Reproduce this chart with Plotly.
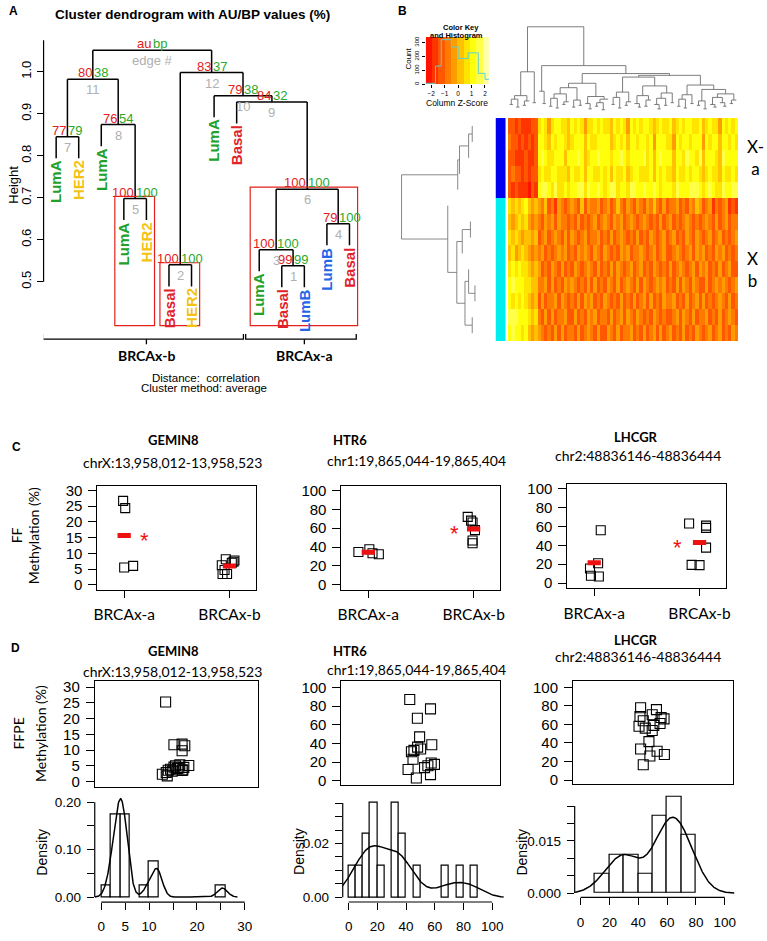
import numpy as np
import plotly.graph_objects as go

W, H = 767, 941
SANS = "Liberation Sans, Arial, sans-serif"
CAL = "Lato, Open Sans, sans-serif"

# ---------------- A: pvclust dendrogram ----------------
a_leaves = ["LumA", "HER2", "LumA", "LumA", "HER2", "Basal", "HER2",
            "LumA", "Basal", "LumA", "Basal", "LumB", "LumB", "Basal"]
# height at which leaf i joins leaf i+1 (leaf order as drawn)
a_merge = [0.845, 0.982, 0.874, 0.698, 1.051, 0.540, 0.998,
           0.943, 0.928, 0.576, 0.538, 0.720, 0.638]
# AU / BP p-values (%) by edge number 1..12
a_au = [99, 100, 100, 79, 100, 100, 77, 76, 84, 79, 80, 83]
a_bp = [99, 100, 100, 100, 100, 100, 79, 54, 32, 38, 38, 37]
a_group = ["BRCAx-b"] * 9 + ["BRCAx-a"] * 5
a_ticks = [0.5, 0.6, 0.7, 0.8, 0.9, 1.0]

# ---------------- B: heatmap ----------------
b_key_breaks = [-2.4, -1.93, -1.46, -0.99, -0.52, -0.05, 0.42, 0.89, 1.36, 1.83, 2.3]
b_key_hist_edges = [-2.43, -1.68, -1.25, -0.5, 0.0, 0.75, 1.5, 2.0, 2.38]
b_key_hist_counts = [7, 131, 321, 269, 186, 226, 79, 36]
b_row_group = ["X-a"] * 5 + ["X-b"] * 9
b_row_merge = [0.22, 0.26, 0.36, 0.38, 1.0, 0.49, 0.24, 0.33, 0.39, 0.26, 0.19, 0.30, 0.22]
b_col_merge = [0.12, 0.18, 0.09, 0.22, 0.11, 0.16, 0.49, 0.14, 1.00, 0.27,
               0.13, 0.56, 0.10, 0.19, 0.08, 0.24, 0.12, 0.15, 0.31, 0.09,
               0.17, 0.11, 0.36, 0.13, 0.07, 0.21, 0.10, 0.14, 0.06, 0.18,
               0.47, 0.12, 0.20, 0.08, 0.26, 0.11, 0.15, 0.43, 0.13, 0.09,
               0.22, 0.10, 0.17, 0.33, 0.12, 0.07, 0.19, 0.11, 0.25, 0.14,
               0.45, 0.10, 0.18, 0.08, 0.23, 0.13, 0.34, 0.11, 0.16, 0.07,
               0.29, 0.12, 0.09, 0.20, 0.14, 0.10, 0.24, 0.13, 0.17]
# colour level (0 = lowest z-score bin ... 9 = highest) of every cell
b_rows = [
    "221211122 6764677665 7676466767 6657676476 7677656766 7567677667 5676647676 7",
    "322121212 7765767765 6777576677 7756767577 6776747776 6476776777 4767757767 6",
    "221112112 7876677757 7787567787 7767787677 7786757877 7577687768 5777658777 7",
    "232212122 6766776665 7667577667 6757667567 7666757676 6576676776 5676657667 6",
    "212111021 7887686676 7788687787 6788677688 7787787677 7687778887 6787668778 8",
    "656567545 4352314323 4325243342 3423532432 4324353242 3342324354 2341323412 1",
    "545656434 3243424332 3242323423 4324342343 2343232423 4232343232 3432423423 3",
    "656545545 2342343242 4323423342 3242343232 4232432342 3423243243 2342342323 4",
    "564565434 3423234342 3243432432 4323243423 3432342342 2343234243 4232434232 3",
    "676766545 4232432423 2432343242 3242432342 3423243232 4234323424 3423242342 2",
    "787776655 3342423243 4323242423 2432423432 4243234342 3242432432 2423434323 4",
    "767676545 2423342432 3242434232 4323242324 2342423243 3423242342 4232343242 3",
    "888777656 3242423342 2423243423 3242342432 4323243232 2342432423 3423242343 2",
    "787767545 4323242423 3242343242 2432423342 3242342423 4232423243 2342342324 3",
]

# ---------------- C: fresh-frozen methylation (%) ----------------
genes = ["GEMIN8", "HTR6", "LHCGR"]
regions = ["chrX:13,958,012-13,958,523", "chr1:19,865,044-19,865,404", "chr2:48836146-48836444"]
ff_groups = ["BRCAx-a", "BRCAx-b"]
ff_gemin8_a = [26.7, 24.4, 5.5, 6.0]
ff_gemin8_b = [8.1, 7.3, 7.0, 6.2, 4.7, 3.4, 3.4, 7.7]
ff_htr6_a = [34.7, 37.6, 33.4, 32.3]
ff_htr6_b = [72, 68, 66, 58, 47, 44]
ff_lhcgr_a = [15.5, 7.7, 7.0, 21.0, 56.0]
ff_lhcgr_b = [63.2, 61.0, 58.6, 37.6, 19.3, 19.0]
# horizontal jitter of each point, as plotted
ff_gemin8_a_jit = [-0.01, 0.01, 0.0, 0.085]
ff_gemin8_b_jit = [-0.035, 0.038, 0.022, -0.073, -0.047, -0.066, -0.023, 0.047]
ff_htr6_a_jit = [-0.094, 0.01, 0.04, 0.1]
ff_htr6_b_jit = [-0.056, -0.024, -0.01, 0.013, -0.01, -0.01]
ff_lhcgr_a_jit = [-0.04, -0.031, 0.044, 0.037, 0.062]
ff_lhcgr_b_jit = [-0.099, 0.062, 0.062, 0.062, -0.075, 0.0]
ff_star_group = [0, 1, 1]

# ---------------- D: FFPE methylation (%) ----------------
ffpe_gemin8 = [25.3, 11.9, 11.7, 11.4, 9.8, 1.8, 2.3, 2.9, 3.3, 3.5,
               3.6, 3.7, 3.9, 4.1, 4.3, 4.5, 4.6, 5.0, 5.1, 5.3]
ffpe_gemin8_jit = [-0.132, 0.07, -0.03, 0.103, 0.07, -0.112, -0.172, -0.124, -0.051, 0.07,
                   -0.1, 0.079, -0.072, 0.01, 0.03, 0.091, -0.03, -0.011, 0.152, 0.042]
ffpe_htr6 = [87, 77, 67, 47, 38.5, 36, 34, 32.5, 31, 23, 19, 17.5, 16, 14, 12, 6.4, 2.8]
ffpe_htr6_jit = [-0.141, 0.12, -0.045, -0.017, 0.136, -0.042, -0.004, -0.088, -0.12, -0.1,
                 0.129, 0.17, 0.087, 0.045, -0.162, 0.12, -0.058]
ffpe_lhcgr = [16.5, 26, 27.5, 31, 33.5, 41.5, 53.5, 56, 58, 59,
              61, 64, 66, 67.5, 68.5, 70.5, 76, 78]
ffpe_lhcgr_jit = [-0.122, -0.039, 0.142, 0.051, -0.155, -0.051, -0.01, -0.097, -0.175, 0.01,
                  0.088, -0.122, 0.138, 0.101, -0.163, -0.01, 0.043, -0.155]
hist_bins = [(0, 26, 2), (0, 90, 5), (10, 80, 10)]

SUB_COL = {"LumA": "#22a12a", "HER2": "#f3c213", "Basal": "#e1222b", "LumB": "#2466e8"}
AU_COL, BP_COL, EDGE_COL = "#e3201b", "#2aa92a", "#b0b0b0"
HEAT = ["#FF0000", "#FF2000", "#FF4000", "#FF6000", "#FF8000", "#FF9F00",
        "#FFBF00", "#FFDF00", "#FFFF00", "#FFFF2A", "#FFFF80", "#FFFFD5"]
HEAT_SCALE = [[i / (len(HEAT) - 1), c] for i, c in enumerate(HEAT)]

fig = go.Figure()
lay_axes, ann, shp = {}, [], []
BLANK = dict(showgrid=False, zeroline=False, showticklabels=False, ticks="", showline=False)
BOX = dict(showline=True, mirror=True, linecolor="black", linewidth=1)


def dom_x(a, b):
    return [a / W, b / W]


def dom_y(top, bottom):
    return [1 - bottom / H, 1 - top / H]


def axes(n, xd, yd, xr, yr, xkw=None, ykw=None):
    s = "" if n == 1 else str(n)
    lay_axes["xaxis" + s] = dict(BLANK, domain=xd, range=xr, anchor="y" + s, **(xkw or {}))
    lay_axes["yaxis" + s] = dict(BLANK, domain=yd, range=yr, anchor="x" + s, **(ykw or {}))
    return "x" + s, "y" + s


def ticks(vals, labels=None, size=13, family=SANS, angle=0, length=7, standoff=None):
    d = dict(tickmode="array", tickvals=vals, showticklabels=True, ticks="outside",
             ticklen=length, tickwidth=1, tickcolor="black", tickangle=angle,
             tickfont=dict(family=family, size=size, color="black"))
    if labels is not None:
        d["ticktext"] = labels
    if standoff is not None:
        d["ticklabelstandoff"] = standoff
    return d


def text(s, x, y, size, color="black", family=SANS, bold=False, angle=0,
         xa="center", ya="middle", xref="paper", yref="paper", yshift=0, xshift=0):
    if xref == "paper":
        x = x / W
    if yref == "paper":
        y = 1 - y / H
    ann.append(dict(text=s, x=x, y=y, xref=xref, yref=yref, showarrow=False,
                    textangle=angle, xanchor=xa, yanchor=ya, yshift=yshift, xshift=xshift,
                    borderpad=0, font=dict(family=family, size=size, color=color,
                                           weight="bold" if bold else "normal")))


def build(merge, lo, hi, pos):
    if lo == hi:
        return dict(x=pos[lo], h=None, lo=lo, hi=hi, kids=[])
    k = lo + int(np.argmax(merge[lo:hi]))
    left, right = build(merge, lo, k, pos), build(merge, k + 1, hi, pos)
    return dict(x=(left["x"] + right["x"]) / 2, h=merge[k], lo=lo, hi=hi, kids=[left, right])


def walk(node, hang, xs, ys, nodes, leaf_end):
    if not node["kids"]:
        return
    nodes.append(node)
    left, right = node["kids"]
    for kid in (left, right):
        if kid["kids"]:
            kh = kid["h"]
        else:
            kh = node["h"] - hang
            leaf_end[kid["lo"]] = kh
        xs += [kid["x"], kid["x"], None]
        ys += [kh, node["h"], None]
    xs += [left["x"], right["x"], None]
    ys += [node["h"], node["h"], None]
    for kid in (left, right):
        walk(kid, hang, xs, ys, nodes, leaf_end)


def line_trace(x, y, xa, ya, color="black", width=1.0):
    fig.add_trace(go.Scatter(x=x, y=y, mode="lines", xaxis=xa, yaxis=ya, hoverinfo="skip",
                             line=dict(color=color, width=width)))


# ================= panel A =================
xa, ya = axes(1, dom_x(40, 385.6), dom_y(17.5, 364.7), [0.443, 15.6], [0.3, 1.12],
              ykw=ticks(a_ticks, [f"{t:.1f}" for t in a_ticks], 13, angle=-90, length=6))
a_pos = [i + 1 for i in range(len(a_leaves))]
a_root = build(a_merge, 0, len(a_leaves) - 1, a_pos)
xs, ys, a_nodes, a_end = [], [], [], {}
walk(a_root, 0.1 * (max(a_merge) - min(a_merge)), xs, ys, a_nodes, a_end)
line_trace(xs, ys, xa, ya, width=1.5)
shp.append(dict(type="line", xref="x domain", yref="y", x0=0, x1=0, y0=a_ticks[0], y1=1.075,
                line=dict(color="black", width=1.2)))
for i, lab in enumerate(a_leaves):
    text(lab, a_pos[i], a_end[i], 15, SUB_COL[lab], bold=True, angle=-90, ya="top",
         xref=xa, yref=ya, yshift=-1)
inner = sorted([n for n in a_nodes if n is not a_root], key=lambda n: n["h"])
for e, n in enumerate(inner, 1):
    text(str(a_au[e - 1]), n["x"], n["h"], 13, AU_COL, xa="right", ya="bottom", xref=xa, yref=ya, yshift=-2)
    text(str(a_bp[e - 1]), n["x"], n["h"], 13, BP_COL, xa="left", ya="bottom", xref=xa, yref=ya, yshift=-2)
    text(str(e), n["x"], n["h"], 13, EDGE_COL, ya="top", xref=xa, yref=ya, yshift=-2)
text("au", a_root["x"], a_root["h"], 13, AU_COL, xa="right", ya="bottom", xref=xa, yref=ya, yshift=-2)
text("bp", a_root["x"], a_root["h"], 13, BP_COL, xa="left", ya="bottom", xref=xa, yref=ya, yshift=-2)
text("edge #", a_root["x"], a_root["h"], 13, EDGE_COL, ya="top", xref=xa, yref=ya, yshift=-2)
boxed = []
for e, n in sorted(enumerate(inner, 1), key=lambda t: t[1]["lo"] - t[1]["hi"]):
    if a_au[e - 1] >= 95 and not any(b["lo"] <= n["lo"] and n["hi"] <= b["hi"] for b in boxed):
        boxed.append(n)
for n in boxed:
    shp.append(dict(type="rect", xref=xa, yref=ya, x0=a_pos[n["lo"]] - 0.4, x1=a_pos[n["hi"]] + 0.36,
                    y0=0.395, y1=n["h"] + 0.005, line=dict(color=AU_COL, width=1.2)))
for g in dict.fromkeys(a_group):
    idx = [i for i, v in enumerate(a_group) if v == g]
    x0, x1 = a_pos[idx[0]] - 0.6, a_pos[idx[-1]] + 0.3
    c = (a_pos[idx[0]] + a_pos[idx[-1]]) / 2
    line_trace([x0, x0, x1, x1, None, c, c], [0.375, 0.363, 0.363, 0.375, None, 0.363, 0.351],
               xa, ya, width=1.3)
    text(g, c, 0.323, 14, family=CAL, bold=True, xref=xa, yref=ya)
text("A", 10, 7, 12, bold=True)
text("Cluster dendrogram with AU/BP values (%)", 190, 11, 13.5, bold=True)
text("Height", 9.3, 182, 13, angle=-90)
text("Distance:  correlation", 204, 377, 11.5)
text("Cluster method: average", 202, 387, 11.5)

# ================= panel B =================
levels = [(b_key_breaks[i] + b_key_breaks[i + 1]) / 2 for i in range(len(b_key_breaks) - 1)]
Z = [[levels[int(ch)] for ch in row.replace(" ", "")] for row in b_rows]
nrow, ncol = len(Z), len(Z[0])
zlo, zhi = b_key_breaks[0], b_key_breaks[-1]

# colour key with histogram
xk, yk = axes(2, dom_x(426, 490), dom_y(33.3, 81), [-2.42, 2.29], [0, 340],
              xkw=ticks([-2, -1, 0, 1, 2], size=6.5, length=3),
              ykw=ticks([0, 100, 200, 300], size=6, angle=-90, length=3))
fig.add_trace(go.Heatmap(z=[levels], x=b_key_breaks, y=[0, 340], colorscale=HEAT_SCALE,
                         zmin=zlo, zmax=zhi, showscale=False, xaxis=xk, yaxis=yk, hoverinfo="skip"))
fig.add_trace(go.Scatter(x=b_key_hist_edges, y=b_key_hist_counts + b_key_hist_counts[-1:],
                         mode="lines", line=dict(color="#5cd0d0", width=1, shape="hv"),
                         xaxis=xk, yaxis=yk, hoverinfo="skip"))
text("Color Key", 461.7, 24, 7.5, bold=True)
text("and Histogram", 457.3, 32, 7.5, bold=True)
text("Count", 409.3, 55, 8, angle=-90)
text("Column Z-Score", 457.3, 99.5, 8.5)

# column dendrogram (leaves reach the baseline)
xc, yc = axes(3, dom_x(509.3, 741.7), dom_y(21.2, 112), [-0.5, ncol - 0.5], [0, 1.02])
c_root = build(b_col_merge, 0, ncol - 1, list(range(ncol)))
xs, ys = [], []
walk(c_root, 0.0, xs, ys, [], {})
ys = [None if v is None else max(v, 0.0) for v in ys]
line_trace(xs, ys, xc, yc, color="#6e6e6e", width=0.9)

# row dendrogram
xr_, yr_ = axes(4, dom_x(399.9, 493.3), dom_y(115, 340), [1.02, 0], [nrow - 0.5, -0.5])
r_root = build(b_row_merge, 0, nrow - 1, list(range(nrow)))
xs, ys = [], []
walk(r_root, 0.0, xs, ys, [], {})
ys = [None if v is None else max(v, 0.0) for v in ys]
line_trace(ys, xs, xr_, yr_, color="#7a7a7a", width=0.9)

# side colour bar
xsb, ysb = axes(5, dom_x(496.7, 507.3), dom_y(115, 340), [-0.5, 0.5], [nrow - 0.5, -0.5])
fig.add_trace(go.Heatmap(z=[[0 if g == "X-a" else 1] for g in b_row_group],
                         colorscale=[[0, "#0000ee"], [1, "#00eeee"]],
                         zmin=0, zmax=1, showscale=False, xaxis=xsb, yaxis=ysb, hoverinfo="skip"))

# heatmap
xh, yh = axes(6, dom_x(509.3, 741.7), dom_y(115, 340), [-0.5, ncol - 0.5], [nrow - 0.5, -0.5])
fig.add_trace(go.Heatmap(z=Z, colorscale=HEAT_SCALE, zmin=zlo, zmax=zhi, showscale=False,
                         xaxis=xh, yaxis=yh, hoverinfo="skip"))
for g, lab in zip(["X-a", "X-b"], ["X-<br>a", "X<br>b"]):
    rows = [i for i, v in enumerate(b_row_group) if v == g]
    text(lab, 750, np.mean(rows), 17, family=CAL, xa="left", yref=yh)
text("B", 403, 7, 12, bold=True)

# ================= panels C / D =================
ff_vals = [(ff_gemin8_a, ff_gemin8_b), (ff_htr6_a, ff_htr6_b), (ff_lhcgr_a, ff_lhcgr_b)]
ff_jit = [(ff_gemin8_a_jit, ff_gemin8_b_jit), (ff_htr6_a_jit, ff_htr6_b_jit),
          (ff_lhcgr_a_jit, ff_lhcgr_b_jit)]
ffpe_vals = [ffpe_gemin8, ffpe_htr6, ffpe_lhcgr]
ffpe_jit = [ffpe_gemin8_jit, ffpe_htr6_jit, ffpe_lhcgr_jit]
meth_ticks = [list(range(0, 31, 5)), list(range(0, 101, 20)), list(range(0, 101, 20))]

c_box = [(94.3, 255, 485.7, 590.7), (341, 501.7, 485.7, 590.7), (569.3, 730, 484, 589)]
c_yr = [[-1.58, 31.58], [-5.26, 105.26], [-5.26, 105.26]]
d_box = [(91.7, 256.7, 683.3, 789.3), (341, 501.7, 683.3, 787.3), (575, 736.7, 682.7, 786.7)]
d_yr = [[-1.6, 31.8], [-4.26, 106.4], [-4.3, 107]]
h_box = [(91.7, 257.8, 800.2, 905.8), (342.3, 504.9, 800.5, 905.7), (576.7, 740, 796.6, 901)]
h_xr = [[-1.37, 33], [-4.14, 108], [-4.12, 108]]
h_yr = [[-0.0107, 0.21], [-0.00173, 0.037], [-0.00122, 0.0285]]
h_xt = [([0, 5, 10, 15, 20, 25, 30], ["0", "5", "10", "", "20", "", "30"]),
        (list(range(0, 101, 20)), None), (list(range(0, 101, 20)), None)]
h_yt = [([0, 0.05, 0.1, 0.15, 0.2], ["0.00", "", "0.10", "", "0.20"]),
        ([0, 0.005, 0.01, 0.015, 0.02, 0.025, 0.03, 0.035], ["0.00", "", "", "", "0.02", "", "", ""]),
        ([0, 0.005, 0.01, 0.015, 0.02, 0.025], ["0.000", "", "", "0.015", "", ""])]
star_dx = [0.19, -0.18, -0.21]
gene_pos_c = [(171.7, 440, "center"), (331.7, 440, "left"), (638.3, 437, "center")]
chr_pos_c = [(170, 462), (417, 460), (640.5, 455)]
gene_pos_d = [(171.7, 652.7, "center"), (331.7, 652.7, "left"), (638.3, 641, "center")]
chr_pos_d = [(170, 673), (417, 671.7), (640.5, 658.5)]
dens_x = [38.3, 298.3, 523.3]

SQ = dict(symbol="square-open", color="black", line=dict(width=1.1, color="black"))
for k, gname in enumerate(genes):
    # ---- C: FF stripchart ----
    x0, x1, t, b = c_box[k]
    xa, ya = axes(7 + k, dom_x(x0, x1), dom_y(t, b), [0.745, 2.255], c_yr[k],
                  xkw=dict(BOX, **ticks([1, 2], ff_groups, 15.5, CAL, standoff=4)),
                  ykw=dict(BOX, **ticks(meth_ticks[k], size=15, length=8, standoff=3)))
    means = []
    for gi, (vals, jit) in enumerate(zip(ff_vals[k], ff_jit[k])):
        fig.add_trace(go.Scatter(x=[gi + 1 + j for j in jit], y=vals, mode="markers",
                                 marker=dict(SQ, size=9), xaxis=xa, yaxis=ya, hoverinfo="skip"))
        means.append(float(np.mean(vals)))
    for gi, m in enumerate(means):
        line_trace([gi + 1 - 0.063, gi + 1 + 0.063], [m, m], xa, ya, color="#ee1111", width=5)
    sg = ff_star_group[k]
    text("*", sg + 1 + star_dx[k], means[sg], 22, "#ee1111", xref=xa, yref=ya, yshift=-5)
    gx, gy, gal = gene_pos_c[k]
    text(gname, gx, gy, 13, family=CAL, bold=True, xa=gal)
    text(regions[k], chr_pos_c[k][0], chr_pos_c[k][1], 14, family=CAL)

    # ---- D: FFPE stripchart ----
    x0, x1, t, b = d_box[k]
    xa, ya = axes(10 + k, dom_x(x0, x1), dom_y(t, b), [0, 2], d_yr[k],
                  xkw=dict(BOX), ykw=dict(BOX, **ticks(meth_ticks[k], size=15, length=8, standoff=3)))
    fig.add_trace(go.Scatter(x=[1 + j for j in ffpe_jit[k]], y=ffpe_vals[k], mode="markers",
                             marker=dict(SQ, size=10), xaxis=xa, yaxis=ya, hoverinfo="skip"))
    gx, gy, gal = gene_pos_d[k]
    text(gname, gx, gy, 13, family=CAL, bold=True, xa=gal)
    text(regions[k], chr_pos_d[k][0], chr_pos_d[k][1], 14, family=CAL)

    # ---- D: histogram + density ----
    x0, x1, t, b = h_box[k]
    xa, ya = axes(13 + k, dom_x(x0, x1), dom_y(t, b), h_xr[k], h_yr[k],
                  xkw=ticks(h_xt[k][0], h_xt[k][1], 13.5, standoff=5),
                  ykw=ticks(h_yt[k][0], h_yt[k][1], 13.5, standoff=3))
    lo, hi, size = hist_bins[k]
    fig.add_trace(go.Histogram(x=ffpe_vals[k], histnorm="probability density",
                               xbins=dict(start=lo, end=hi, size=size), xaxis=xa, yaxis=ya,
                               marker=dict(color="white", line=dict(color="black", width=1.2)),
                               hoverinfo="skip"))
    v = np.asarray(ffpe_vals[k], dtype=float)
    q75, q25 = np.percentile(v, [75, 25])
    bw = 0.9 * min(v.std(ddof=1), (q75 - q25) / 1.34) * len(v) ** -0.2
    grid = np.linspace(v.min() - 3 * bw, v.max() + 3 * bw, 400)
    dens = np.exp(-0.5 * ((grid[:, None] - v[None, :]) / bw) ** 2).sum(1) / (len(v) * bw * np.sqrt(2 * np.pi))
    line_trace(grid, dens, xa, ya, width=1.5)
    shp.append(dict(type="line", xref=xa, yref=f"{ya} domain", x0=h_xt[k][0][0], x1=h_xt[k][0][-1],
                    y0=0, y1=0, line=dict(color="black", width=1.2)))
    shp.append(dict(type="line", xref=f"{xa} domain", yref=ya, x0=0, x1=0, y0=h_yt[k][0][0],
                    y1=h_yt[k][0][-1], line=dict(color="black", width=1.2)))
    text("Density", dens_x[k], 855, 14, angle=-90)

text("C", 13, 447, 12, bold=True)
text("D", 12, 650, 12, bold=True)
text("FF", 13, 536, 14, family=CAL, angle=-90)
text("Methylation (%)", 30, 536, 14, family=CAL, angle=-90)
text("FFPE", 15, 736, 14, family=CAL, angle=-90)
text("Methylation (%)", 36.7, 736, 14, family=CAL, angle=-90)

fig.update_layout(width=W, height=H, margin=dict(l=0, r=0, t=0, b=0), showlegend=False,
                  paper_bgcolor="white", plot_bgcolor="white", bargap=0,
                  annotations=ann, shapes=shp, **lay_axes)
fig.write_html("out.html", config={"displayModeBar": False},
               post_script="document.body.style.margin='0';")
